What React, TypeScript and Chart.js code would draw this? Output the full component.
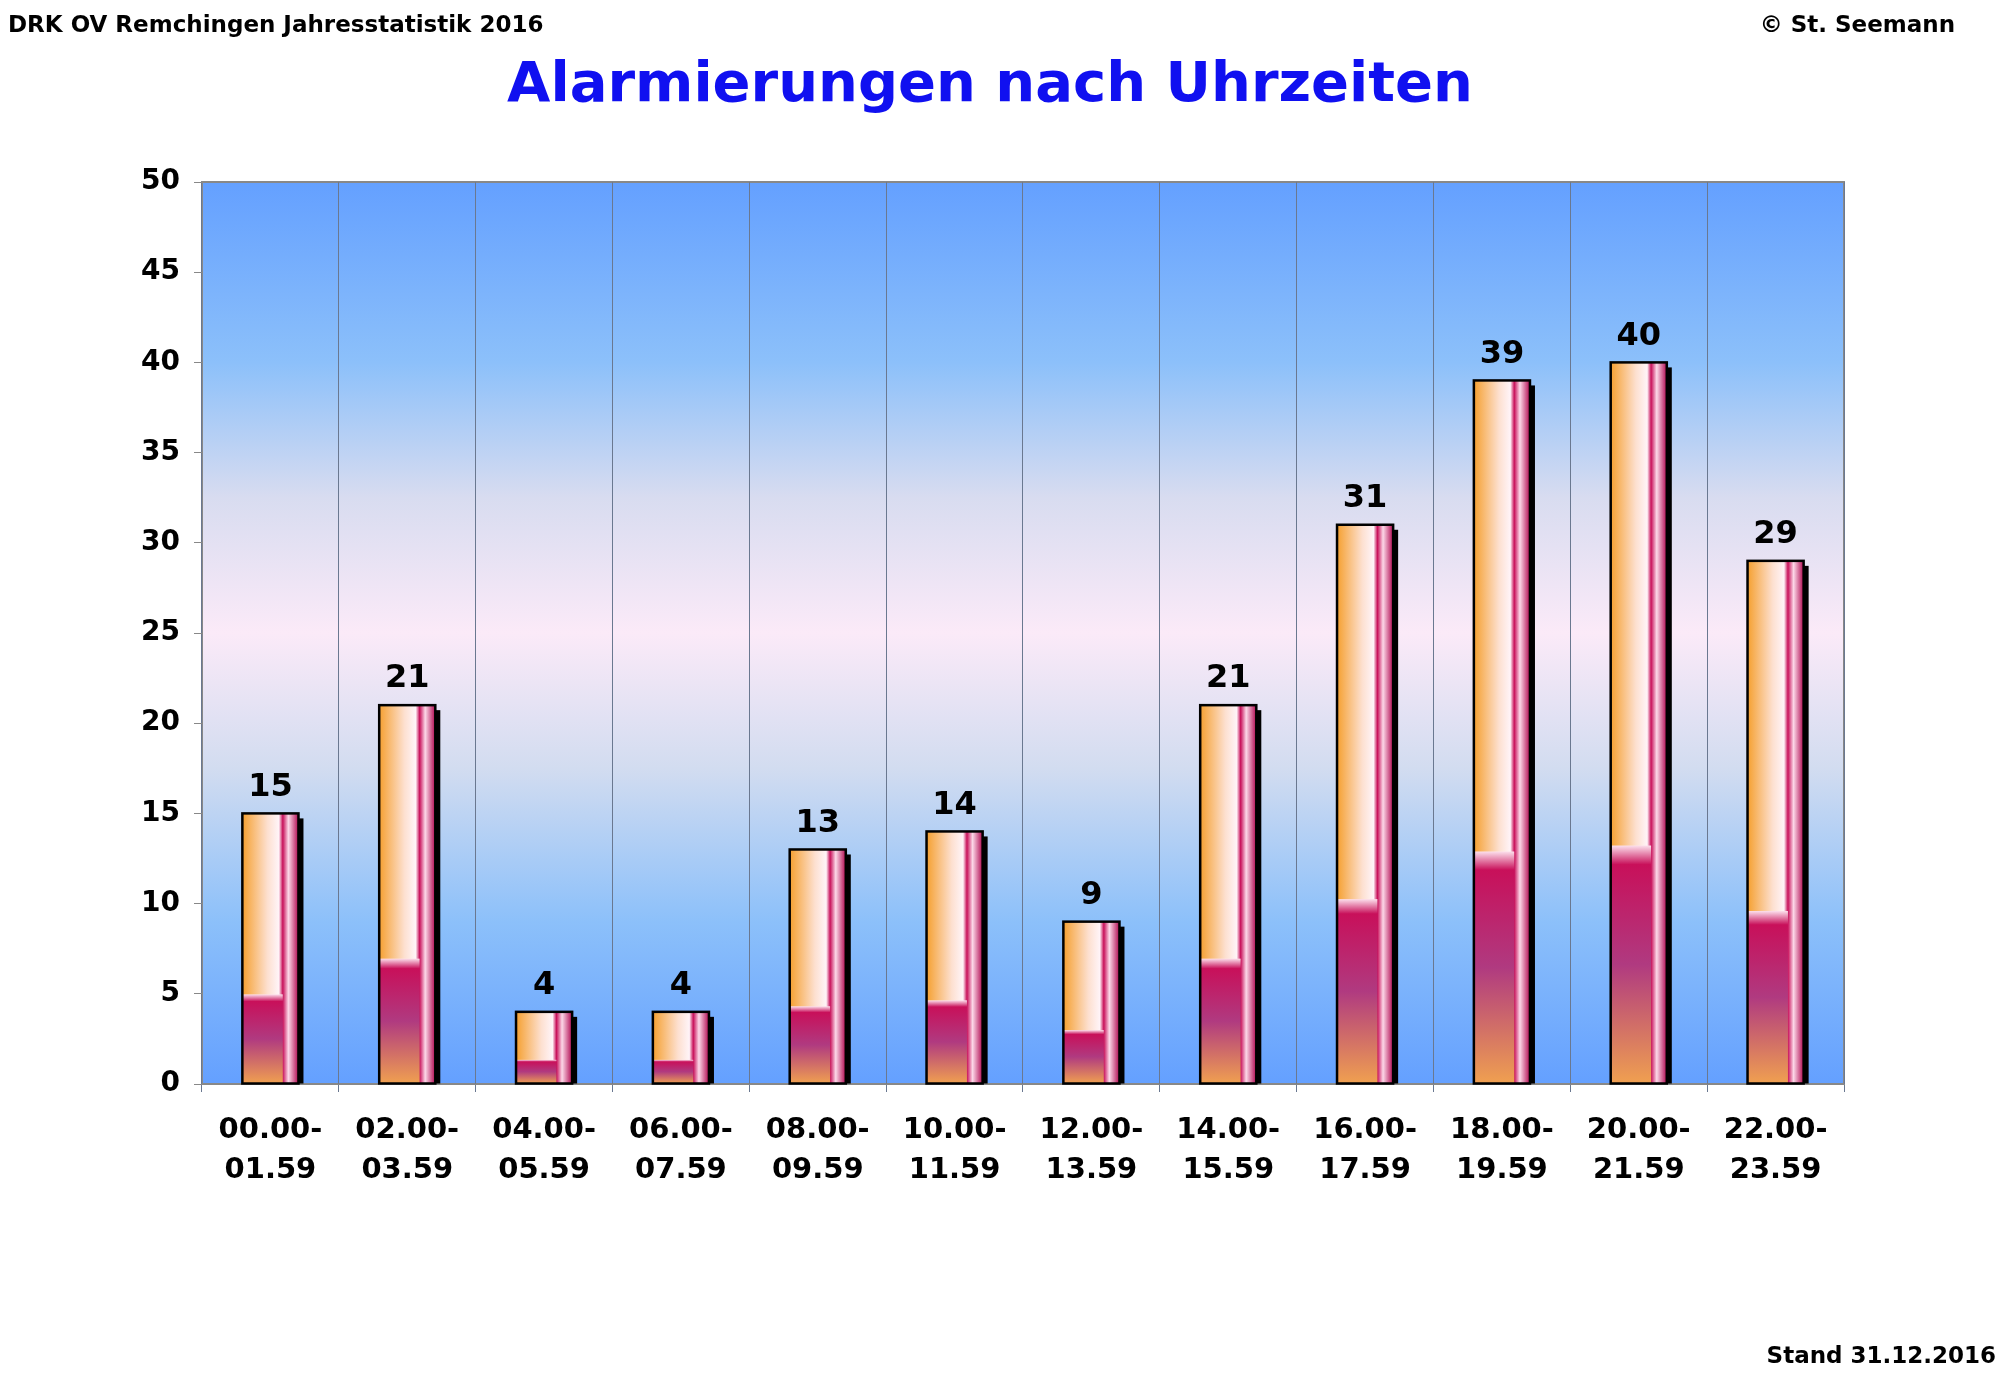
import React, { useEffect, useRef } from "react";
import { Chart, registerables } from "chart.js";
Chart.register(...registerables);

const categories = [["00.00-","01.59"],["02.00-","03.59"],["04.00-","05.59"],["06.00-","07.59"],["08.00-","09.59"],["10.00-","11.59"],["12.00-","13.59"],["14.00-","15.59"],["16.00-","17.59"],["18.00-","19.59"],["20.00-","21.59"],["22.00-","23.59"]];
const values = [15, 21, 4, 4, 13, 14, 9, 21, 31, 39, 40, 29];
const FONT = "'Comic Sans MS', 'DejaVu Sans', sans-serif";

const bgPlugin = {
  id: "bg",
  beforeDraw(chart: any) {
    const { ctx, chartArea: a } = chart;
    ctx.save();
    ctx.fillStyle = "#fff";
    ctx.fillRect(0, 0, chart.width, chart.height);
    const g = ctx.createLinearGradient(0, a.top, 0, a.bottom);
    g.addColorStop(0, "#64a0ff");
    g.addColorStop(0.2, "#8cc0fa");
    g.addColorStop(0.35, "#d8dcf0");
    g.addColorStop(0.5, "#fbeaf8");
    g.addColorStop(0.65, "#d2dcf0");
    g.addColorStop(0.82, "#8cc0fa");
    g.addColorStop(1, "#64a0ff");
    ctx.fillStyle = g;
    ctx.fillRect(a.left, a.top, a.right - a.left, a.bottom - a.top);
    ctx.strokeStyle = "#888";
    ctx.lineWidth = 2;
    ctx.strokeRect(a.left, a.top, a.right - a.left, a.bottom - a.top);
    ctx.fillStyle = "#000";
    ctx.textBaseline = "middle";
    ctx.font = `bold 23px ${FONT}`;
    ctx.textAlign = "left";
    ctx.fillText("DRK OV Remchingen Jahresstatistik 2016", 8, 26);
    ctx.textAlign = "right";
    ctx.fillText("© St. Seemann", 1955, 26);
    ctx.fillText("Stand 31.12.2016", 1996, 1357);
    ctx.fillStyle = "#1010f0";
    ctx.textAlign = "center";
    ctx.font = `bold 56px ${FONT}`;
    ctx.fillText("Alarmierungen nach Uhrzeiten", 990, 86);
    ctx.restore();
  },
};

const barPlugin = {
  id: "bars",
  afterDatasetsDraw(chart: any) {
    const { ctx } = chart;
    const meta = chart.getDatasetMeta(0);
    ctx.save();
    meta.data.forEach((bar: any, i: number) => {
      const w = bar.width, x0 = bar.x - w / 2, top = bar.y, bot = bar.base, h = bot - top;
      ctx.fillStyle = "#000";
      ctx.fillRect(x0 + 5, top + 5, w, h - 5);
      const hg = ctx.createLinearGradient(x0, 0, x0 + w, 0);
      hg.addColorStop(0, "#f5a030");
      hg.addColorStop(0.45, "#fde0d0");
      hg.addColorStop(0.65, "#fff4f8");
      hg.addColorStop(0.72, "#c8105a");
      hg.addColorStop(0.82, "#fcd8e8");
      hg.addColorStop(1, "#b00850");
      ctx.fillStyle = hg;
      ctx.fillRect(x0, top, w, h);
      const lh = h * 0.33;
      const vg = ctx.createLinearGradient(0, bot - lh, 0, bot);
      vg.addColorStop(0, "#fce0ec");
      vg.addColorStop(0.08, "#c8105a");
      vg.addColorStop(0.5, "#b03a80");
      vg.addColorStop(1, "#f0a050");
      ctx.fillStyle = vg;
      ctx.fillRect(x0, bot - lh, w * 0.72, lh);
      ctx.strokeStyle = "#000";
      ctx.lineWidth = 2.5;
      ctx.strokeRect(x0, top, w, h);
      ctx.fillStyle = "#000";
      ctx.font = `bold 32px ${FONT}`;
      ctx.textAlign = "center";
      ctx.textBaseline = "bottom";
      ctx.fillText(String(values[i]), bar.x, top - 10);
    });
    ctx.restore();
  },
};

export default function App() {
  const ref = useRef<HTMLCanvasElement>(null);
  useEffect(() => {
    document.body.style.margin = "0";
    const chart = new Chart(ref.current!, {
      type: "bar",
      data: { labels: categories as any, datasets: [{ data: values, backgroundColor: "rgba(0,0,0,0)", categoryPercentage: 1, barPercentage: 0.41 }] },
      options: {
        animation: false,
        responsive: false,
        layout: { padding: { left: 122, right: 156, top: 182, bottom: 193 } },
        plugins: { legend: { display: false }, tooltip: { enabled: false } },
        scales: {
          x: {
            offset: true,
            grid: { offset: true, color: "#6a7890", lineWidth: 1, drawTicks: true, tickLength: 8 },
            border: { color: "#888" },
            ticks: { color: "#000", font: { family: FONT, size: 29, weight: "bold", lineHeight: 1.4 }, padding: 18, maxRotation: 0 },
            afterFit: (s: any) => { s.height = 110; },
          },
          y: {
            min: 0, max: 50,
            ticks: { stepSize: 5, color: "#000", font: { family: FONT, size: 28, weight: "bold" }, padding: 14 },
            grid: { display: true, drawOnChartArea: false, tickLength: 8, color: "#888" },
            border: { color: "#888" },
            afterFit: (s: any) => { s.width = 80; },
          },
        },
      },
      plugins: [bgPlugin, barPlugin],
    });
    return () => chart.destroy();
  }, []);
  return <canvas ref={ref} width={2000} height={1387} style={{ display: "block" }} />;
}
